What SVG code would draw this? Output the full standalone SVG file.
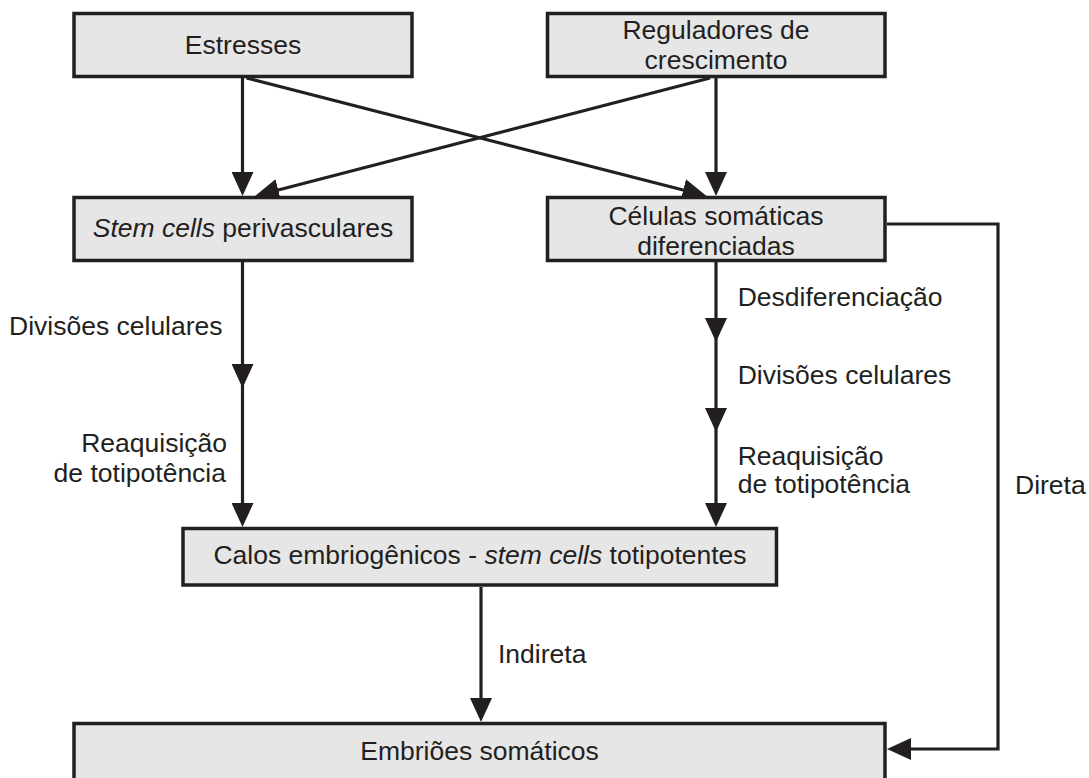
<svg xmlns="http://www.w3.org/2000/svg" width="1089" height="778" viewBox="0 0 1089 778">
<style>
.box{fill:#e6e6e6;stroke:#231f20;stroke-width:3.5}
.t{font-family:"Liberation Sans",Arial,sans-serif;font-size:26.5px;fill:#231f20}
.c{text-anchor:middle}
.e{text-anchor:end}
.ln{fill:none;stroke:#231f20;stroke-width:3.2}
.it{font-style:italic}
</style>
<defs>
<marker id="ah" viewBox="0 0 24 22" markerWidth="24" markerHeight="22" refX="14" refY="11" orient="auto" markerUnits="userSpaceOnUse">
<path d="M0,0 L24,11 L0,22 z" fill="#231f20"/>
</marker>
</defs>
<rect width="1089" height="778" fill="#ffffff"/>
<g id="connectors">
<line class="ln" x1="242.5" y1="78" x2="242.5" y2="186" marker-end="url(#ah)"/>
<line class="ln" x1="716" y1="78" x2="716" y2="186" marker-end="url(#ah)"/>
<line class="ln" x1="246.5" y1="78" x2="696.8" y2="193.5" marker-end="url(#ah)"/>
<line class="ln" x1="710" y1="78" x2="264.7" y2="193.5" marker-end="url(#ah)"/>
<line class="ln" x1="242.5" y1="262" x2="242.5" y2="378" marker-end="url(#ah)"/>
<line class="ln" x1="242.5" y1="378" x2="242.5" y2="517" marker-end="url(#ah)"/>
<line class="ln" x1="716" y1="262" x2="716" y2="332" marker-end="url(#ah)"/>
<line class="ln" x1="716" y1="332" x2="716" y2="422" marker-end="url(#ah)"/>
<line class="ln" x1="716" y1="422" x2="716" y2="517" marker-end="url(#ah)"/>
<line class="ln" x1="481" y1="587" x2="481" y2="712" marker-end="url(#ah)"/>
<polyline class="ln" points="887,224 998,224 998,749 897,749" marker-end="url(#ah)"/>
</g>
<g id="estresses">
<rect class="box" x="74" y="13.5" width="338" height="63"/>
<text class="t c" x="243" y="53.5">Estresses</text>
</g>
<g id="reguladores">
<rect class="box" x="547.5" y="13.5" width="337.5" height="63"/>
<text class="t c" x="716" y="39">Reguladores de</text>
<text class="t c" x="716" y="69">crescimento</text>
</g>
<g id="stemcells">
<rect class="box" x="74" y="197.5" width="338" height="63"/>
<text class="t c" x="243" y="237"><tspan class="it">Stem cells</tspan> perivasculares</text>
</g>
<g id="celulas">
<rect class="box" x="547.5" y="197.5" width="337.5" height="63"/>
<text class="t c" x="716" y="225">Células somáticas</text>
<text class="t c" x="716" y="254.5">diferenciadas</text>
</g>
<g id="calos">
<rect class="box" x="183" y="528.5" width="593.5" height="56.5"/>
<text class="t c" x="480" y="564">Calos embriogênicos - <tspan class="it">stem cells</tspan> totipotentes</text>
</g>
<g id="embrioes">
<rect class="box" x="74" y="723.5" width="811" height="70"/>
<text class="t c" x="479.5" y="760">Embriões somáticos</text>
</g>
<g id="labels">
<text class="t" x="9" y="335">Divisões celulares</text>
<text class="t e" x="227" y="451.7">Reaquisição</text>
<text class="t e" x="226" y="481.7">de totipotência</text>
<text class="t" x="737.7" y="306">Desdiferenciação</text>
<text class="t" x="737.7" y="384">Divisões celulares</text>
<text class="t" x="737.7" y="465">Reaquisição</text>
<text class="t" x="737.7" y="493.3">de totipotência</text>
<text class="t" x="1015" y="494">Direta</text>
<text class="t" x="498" y="663.3">Indireta</text>
</g>
</svg>
